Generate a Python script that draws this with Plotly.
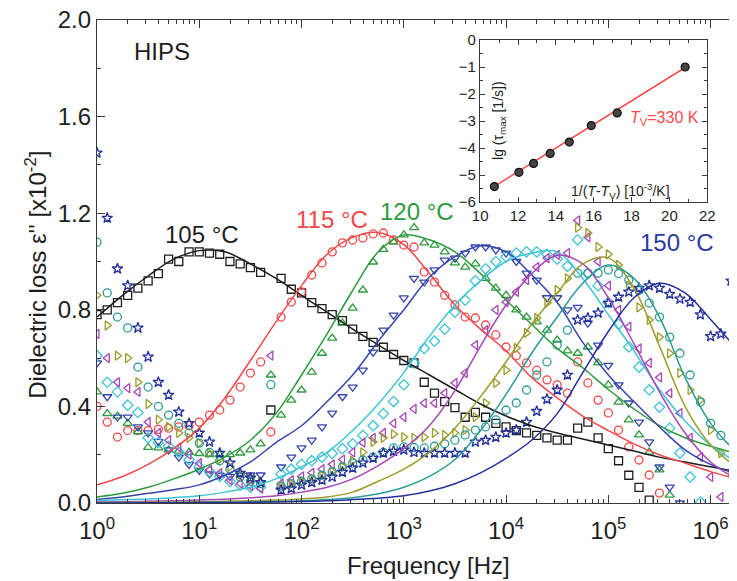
import plotly.graph_objects as go

# ---------------- data ----------------
# measurement grid: log10(frequency / Hz)
LOGF = [0.0, 0.1, 0.2, 0.3, 0.4, 0.5, 0.6, 0.7, 0.8, 0.9,
        1.0, 1.1, 1.2, 1.3, 1.4, 1.5, 1.6, 1.7, 1.8, 1.9,
        2.0, 2.1, 2.2, 2.3, 2.4, 2.5, 2.6, 2.7, 2.8, 2.9,
        3.0, 3.1, 3.2, 3.3, 3.4, 3.5, 3.6, 3.7, 3.8, 3.9,
        4.0, 4.1, 4.2, 4.3, 4.4, 4.5, 4.6, 4.7, 4.8, 4.9,
        5.0, 5.1, 5.2, 5.3, 5.4, 5.5, 5.6, 5.7, 5.8, 5.9,
        6.0, 6.1, 6.2]

T105 = [0.78, 0.80, 0.83, 0.86, 0.89, 0.92, 0.95, 1.01, 1.00, 1.04,
        1.04, 1.035, 1.03, 1.00, 0.99, 0.975, 0.955, 0.385, 0.93, 0.885,
        0.87, 0.83, 0.805, 0.78, 0.755, 0.72, 0.69, 0.665, 0.645, 0.615,
        0.59, 0.58, 0.50, 0.455, 0.42, 0.395, 0.355, 0.375, 0.355, 0.33,
        0.315, 0.30, 0.29, 0.28, 0.27, 0.26, 0.26, 0.31, 0.335, 0.27,
        0.225, 0.175, 0.115, 0.065, 0.012]
T115 = [0.40, 0.335, 0.273, 0.30, 0.30, 0.30, 0.305, 0.31, 0.315, 0.32,
        0.335, 0.364, 0.385, 0.426, 0.48, 0.538, 0.584, 0.294, 0.77, 0.832,
        0.874, 0.944, 0.994, 1.04, 1.077, 1.089, 1.097, 1.114, 1.118, 1.089,
        1.068, 1.06, 0.957, 0.915, 0.86, 0.82, 0.77, 0.766, 0.737, 0.696,
        0.646, 0.61, 0.58, 0.55, 0.51, 0.489, 0.455, 0.584, 0.497, 0.426,
        0.373, 0.302, 0.232, 0.178, 0.116, 0.041]
T120 = [0.46, 0.37, 0.36, 0.33, 0.295, 0.23, 0.228, 0.22, 0.215, 0.21,
        0.205, 0.20, 0.20, 0.20, 0.207, 0.22, 0.245, 0.53, 0.364, 0.426,
        0.468, 0.542, 0.62, 0.683, 0.745, 0.807, 0.882, 0.998, 1.05, 1.08,
        1.11, 1.14, 1.077, 1.068, 1.04, 0.994, 0.977, 0.99, 0.93, 0.89,
        0.86, 0.80, 0.77, 0.75, 0.716, 0.675, 0.63, 0.62, 0.646, 0.58,
        0.489, 0.418, 0.344, 0.282, 0.211, 0.137, 0.033]
T125 = [0.58, 0.44, 0.356, 0.356, 0.315, 0.29, 0.255, 0.22, 0.19, 0.16,
        0.135, 0.12, 0.115, 0.11, 0.116, 0.116, 0.116, None, 0.149, 0.19,
        0.228, 0.26, 0.315, 0.372, 0.44, 0.48, 0.55, 0.625, 0.716, 0.778,
        0.849, 0.93, 0.915, 0.965, 1.006, 1.014, 1.035, 1.06, 1.06, 1.048,
        1.035, 1.0, 0.952, 0.923, 0.85, 0.85, 0.80, 0.81, 0.745, 0.654,
        0.57, 0.489, 0.414, 0.335, 0.253, 0.149, 0.066, 0.0]
T130 = [0.61, 0.50, 0.46, 0.405, 0.375, 0.27, 0.25, 0.235, 0.21, 0.18,
        0.15, 0.13, 0.11, 0.09, 0.075, 0.066, 0.066, None, 0.12, 0.14,
        0.16, 0.175, 0.19, 0.205, 0.225, 0.245, 0.28, 0.32, 0.37, 0.42,
        0.49, 0.58, 0.64, 0.67, 0.72, 0.79, 0.84, 0.92, 0.97, 1.0,
        1.02, 1.035, 1.04, 1.04, 1.03, 1.01, 0.98, 1.09, 0.95, 0.90,
        0.83, 0.74, 0.646, 0.563, 0.468, 0.397, 0.31, 0.207, 0.108, 0.004]
T135 = [0.70, 0.60, 0.50, 0.476, 0.46, 0.335, 0.29, 0.26, 0.23, 0.20,
        0.165, 0.137, 0.124, 0.095, 0.08, 0.07, 0.06, 0.61, 0.08, 0.095,
        0.11, 0.125, 0.14, 0.16, 0.18, 0.21, 0.25, 0.27, 0.29, 0.33,
        0.356, 0.39, 0.414, 0.414, 0.455, 0.497, 0.538, 0.654, 0.716, 0.80,
        0.832, 0.874, 0.923, 0.977, 1.014, 1.027, 1.035, 1.17, 1.10, 1.0,
        0.90, 0.80, 0.73, 0.64, 0.58, 0.52, 0.455, 0.372, 0.27, 0.19,
        0.108, 0.025]
T140 = [0.86, 0.735, 0.61, 0.60, 0.50, 0.41, 0.345, 0.315, 0.29, 0.27,
        0.248, 0.207, 0.18, 0.15, 0.12, 0.10, 0.085, None, 0.07, 0.08,
        0.09, 0.10, 0.115, 0.13, 0.15, 0.175, 0.21, 0.253, 0.27, 0.285,
        0.273, 0.27, 0.273, 0.29, 0.282, 0.29, 0.302, 0.356, 0.414, 0.497,
        0.55, 0.642, 0.704, 0.766, 0.828, 0.882, 0.93, 1.14, 1.118, 1.06,
        1.03, 0.986, 0.90, 0.81, 0.758, 0.687, 0.62, 0.538, 0.468, 0.426,
        0.302, 0.207, 0.124]
T145 = [1.08, 0.87, 0.77, 0.725, 0.563, 0.48, 0.40, 0.364, 0.33, 0.29,
        0.248, 0.21, 0.175, 0.14, 0.108, 0.09, 0.08, 0.49, 0.07, 0.08,
        0.09, 0.10, 0.115, 0.13, 0.15, 0.165, 0.178, 0.19, 0.21, 0.228,
        0.232, 0.23, 0.228, 0.235, 0.245, 0.26, 0.282, 0.302, 0.315, 0.344,
        0.385, 0.414, 0.468, 0.53, 0.584, 0.654, 0.716, 0.952, 0.952, 0.952,
        0.965, 0.95, 0.923, 0.88, 0.828, 0.77, 0.687, 0.62, 0.53, 0.418,
        0.33, 0.28]
T150 = [1.45, 1.18, 0.97, 0.90, 0.725, 0.605, 0.50, 0.447, 0.377, 0.33,
        0.29, 0.253, 0.207, 0.166, 0.124, 0.104, 0.085, None, 0.054, 0.06,
        0.075, 0.085, 0.095, 0.108, 0.128, 0.145, 0.166, 0.186, 0.207, 0.215,
        0.22, 0.21, 0.207, 0.207, 0.207, 0.207, 0.207, 0.253, 0.26, 0.273,
        0.29, 0.302, 0.335, 0.38, 0.43, 0.468, 0.53, 0.758, 0.766, 0.787,
        0.828, 0.853, 0.874, 0.89, 0.90, 0.89, 0.865, 0.845, 0.832, 0.78,
        0.69, 0.70, 0.92]

# fitted curves, read at quarter decades
FIT_LOGF = [0.0, 0.25, 0.5, 0.75, 1.0, 1.25, 1.5, 1.75, 2.0, 2.25,
            2.5, 2.75, 3.0, 3.25, 3.5, 3.75, 4.0, 4.25, 4.5, 4.75,
            5.0, 5.25, 5.5, 5.75, 6.0, 6.25]
FIT105 = [0.77, 0.86, 0.94, 1.01, 1.045, 1.04, 0.99, 0.93, 0.86, 0.79,
          0.72, 0.655, 0.59, 0.53, 0.47, 0.41, 0.36, 0.32, 0.29, 0.265,
          0.24, 0.215, 0.19, 0.17, 0.15, 0.13]
FIT115 = [0.075, 0.11, 0.16, 0.225, 0.31, 0.435, 0.59, 0.75, 0.90, 1.03,
          1.10, 1.12, 1.07, 0.95, 0.82, 0.72, 0.63, 0.52, 0.435, 0.36,
          0.30, 0.245, 0.20, 0.165, 0.13, 0.10]
FIT120 = [0.025, 0.04, 0.065, 0.10, 0.14, 0.19, 0.26, 0.37, 0.53, 0.70,
          0.88, 1.04, 1.11, 1.09, 1.04, 0.95, 0.84, 0.74, 0.64, 0.56,
          0.47, 0.39, 0.32, 0.27, 0.235, 0.205]
FIT125 = [0.015, 0.025, 0.04, 0.055, 0.075, 0.115, 0.17, 0.25, 0.32, 0.42,
          0.53, 0.67, 0.80, 0.935, 1.02, 1.065, 1.04, 0.945, 0.83, 0.665,
          0.53, 0.42, 0.315, 0.22, 0.16, 0.12]
FIT130 = [0.01, 0.013, 0.017, 0.022, 0.03, 0.045, 0.065, 0.10, 0.15, 0.21,
          0.30, 0.41, 0.54, 0.69, 0.82, 0.92, 1.0, 1.035, 1.04, 0.93,
          0.78, 0.63, 0.47, 0.34, 0.24, 0.17]
FIT135 = [0.004, 0.005, 0.007, 0.009, 0.012, 0.016, 0.022, 0.03, 0.045, 0.065,
          0.10, 0.155, 0.225, 0.32, 0.465, 0.65, 0.82, 0.95, 1.025, 0.99,
          0.85, 0.66, 0.46, 0.29, 0.17, 0.10]
FIT140 = [0.002, 0.002, 0.003, 0.004, 0.005, 0.007, 0.009, 0.012, 0.017, 0.025,
          0.045, 0.09, 0.14, 0.21, 0.31, 0.44, 0.585, 0.74, 0.87, 0.99,
          1.015, 0.89, 0.65, 0.40, 0.24, 0.15]
FIT145 = [0.001, 0.001, 0.001, 0.002, 0.002, 0.003, 0.004, 0.006, 0.009, 0.014,
          0.022, 0.038, 0.065, 0.11, 0.18, 0.30, 0.45, 0.62, 0.77, 0.91,
          0.985, 0.93, 0.77, 0.52, 0.33, 0.21]
FIT150 = [0.0, 0.0, 0.001, 0.001, 0.002, 0.002, 0.003, 0.004, 0.006, 0.009,
          0.014, 0.02, 0.03, 0.05, 0.08, 0.125, 0.185, 0.26, 0.37, 0.54,
          0.71, 0.85, 0.91, 0.87, 0.76, 0.64]

# inset: lg(tau_max) vs 1/(T - T_V)
INV_T = [10.75, 12.05, 12.82, 13.70, 14.71, 15.87, 17.24, 20.83]
LG_TAU = [-5.43, -4.90, -4.57, -4.20, -3.78, -3.17, -2.70, -1.00]
VFT_X = [10.75, 20.83]
VFT_Y = [-5.42, -1.02]

X_TICKS = [1, 10, 100, 1000, 10000, 100000, 1000000]
X_TICK_TEXT = ["10<sup>0</sup>", "10<sup>1</sup>", "10<sup>2</sup>", "10<sup>3</sup>",
               "10<sup>4</sup>", "10<sup>5</sup>", "10<sup>6</sup>"]

SERIES = [
    (T105, FIT105, "#1e1e1e", "square-open"),
    (T115, FIT115, "#f2484a", "circle-open"),
    (T120, FIT120, "#2e9a3e", "triangle-up-open"),
    (T125, FIT125, "#3646ac", "triangle-down-open"),
    (T130, FIT130, "#3ec4d6", "diamond-open"),
    (T135, FIT135, "#a646b8", "triangle-left-open"),
    (T140, FIT140, "#9c9c2c", "triangle-right-open"),
    (T145, FIT145, "#2a9c94", "circle-open"),
    (T150, FIT150, "#24309c", "star-open"),
]

FONT = "Liberation Sans, Arial, Helvetica, sans-serif"
W, H = 737, 581
L, R, T, B = 97, 0, 20, 78
PW, PH = W - L - R, H - T - B


def px(xp):
    return (xp - L) / PW


def py(yp):
    return (H - B - yp) / PH


fig = go.Figure()

for vals, fit, color, symbol in SERIES:
    xs = [10 ** lf for lf, v in zip(LOGF, vals) if v is not None]
    ys = [v for v in vals if v is not None]
    fig.add_trace(go.Scatter(
        x=xs, y=ys, mode="markers", showlegend=False, hoverinfo="skip",
        marker=dict(symbol=symbol, size=8, color=color,
                    line=dict(width=1.3, color=color)),
    ))
for vals, fit, color, symbol in SERIES:
    fig.add_trace(go.Scatter(
        x=[10 ** lf for lf in FIT_LOGF], y=fit, mode="lines", showlegend=False,
        hoverinfo="skip",
        line=dict(color=color, width=1.5, shape="spline", smoothing=1.0),
    ))

# inset
fig.add_trace(go.Scatter(
    x=VFT_X, y=VFT_Y, mode="lines", xaxis="x2", yaxis="y2", showlegend=False,
    line=dict(color="#ff4a4a", width=1.6),
))
fig.add_trace(go.Scatter(
    x=INV_T, y=LG_TAU, mode="markers", xaxis="x2", yaxis="y2", showlegend=False,
    marker=dict(symbol="circle", size=8, color="#444444",
                line=dict(width=1.2, color="#111111")),
))

axis_common = dict(showgrid=False, zeroline=False, showline=True,
                   linecolor="#3a3a3a", linewidth=1.4, ticks="inside",
                   tickcolor="#3a3a3a", tickwidth=1.2)

fig.update_layout(
    width=W, height=H,
    margin=dict(l=L, r=R, t=T, b=B),
    paper_bgcolor="white", plot_bgcolor="white",
    font=dict(family=FONT, color="#1e1e1e"),
    showlegend=False,
    xaxis=dict(
        type="log", range=[0, 6.18], tickmode="array",
        tickvals=X_TICKS, ticktext=X_TICK_TEXT, ticklen=8,
        tickfont=dict(size=24), mirror="allticks", ticklabelstandoff=6,
        minor=dict(ticks="inside", ticklen=4, tickmode="linear", tick0=0,
                   dtick="D1", tickcolor="#3a3a3a", showgrid=False),
        **axis_common,
    ),
    yaxis=dict(
        range=[0, 2.0], tick0=0, dtick=0.4, tickformat=".1f", ticklen=8,
        tickfont=dict(size=24), mirror=False,
        minor=dict(ticks="inside", ticklen=4, dtick=0.2, tickcolor="#3a3a3a",
                   showgrid=False),
        **axis_common,
    ),
    xaxis2=dict(
        domain=[px(485), px(715)], anchor="y2", range=[10, 22],
        tick0=10, dtick=2, ticklen=5, mirror="allticks",
        tickfont=dict(size=15),
        minor=dict(ticks="inside", ticklen=3, dtick=1, tickcolor="#3a3a3a"),
        **axis_common,
    ),
    yaxis2=dict(
        domain=[py(202), py(40)], anchor="x2", range=[-6, 0],
        tick0=0, dtick=1, ticklen=5, mirror="allticks",
        tickfont=dict(size=15),
        minor=dict(ticks="inside", ticklen=3, dtick=0.5, tickcolor="#3a3a3a"),
        **axis_common,
    ),
)

ann = [
    ("Frequency [Hz]", 433, 565, 24, "#1e1e1e", 0),
    ("Dielectric loss ε'' [x10<sup>-2</sup>]", 35, 275, 24, "#1e1e1e", -90),
    ("HIPS", 163, 52, 24, "#1e1e1e", 0),
    ("105 °C", 203, 234, 24, "#1e1e1e", 0),
    ("115 °C", 335, 219, 24, "#f2484a", 0),
    ("120 °C", 421, 211, 24, "#2e9a3e", 0),
    ("150 °C", 684, 242, 24, "#2a3aa0", 0),
    ("lg (τ<sub>max</sub> [1/s])", 504, 120, 14, "#1e1e1e", -90),
    ("1/(<i>T</i>-<i>T</i><sub>V</sub>) [10<sup>-3</sup>/K]", 627, 191, 14, "#1e1e1e", 0),
    ("<i>T</i><sub>V</sub>=330 K", 672, 118, 16, "#ff4a4a", 0),
]
for text, xp, yp, size, color, ang in ann:
    fig.add_annotation(
        text=text, x=px(xp), y=py(yp), xref="paper", yref="paper",
        xanchor="center", yanchor="middle", showarrow=False, textangle=ang,
        font=dict(size=size, color=color, family=FONT),
    )

fig.write_html("out.html")
